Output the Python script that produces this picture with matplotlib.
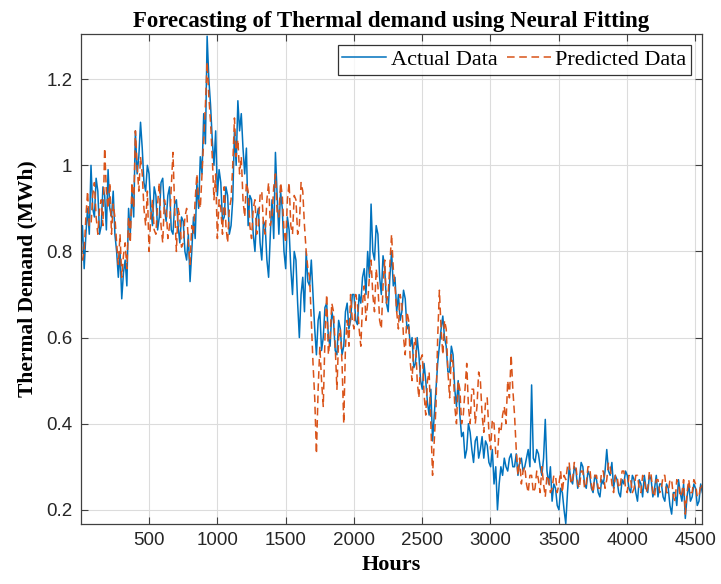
import numpy as np
import matplotlib
matplotlib.use("Agg")
import matplotlib.pyplot as plt

step_hours = 12.5
actual = [
    0.80, 0.86, 0.76, 0.84, 0.90, 0.84, 1.00, 0.90, 0.88, 0.97,
    0.94, 0.84, 0.86, 0.95, 0.93, 0.85, 0.99, 0.90, 0.88, 0.94,
    0.84, 0.80, 0.74, 0.80, 0.69, 0.75, 0.78, 0.72, 0.90, 0.84,
    0.94, 0.88, 1.08, 0.98, 1.02, 1.10, 1.04, 0.96, 0.94, 1.00,
    0.98, 0.90, 0.86, 0.95, 0.93, 0.85, 0.88, 0.96, 0.97, 0.90,
    0.87, 0.93, 0.95, 0.85, 0.84, 0.91, 0.92, 0.86, 0.82, 0.88,
    0.87, 0.80, 0.78, 0.84, 0.73, 0.80, 0.88, 0.83, 0.96, 0.90,
    1.02, 0.98, 1.12, 1.05, 1.30, 1.20, 1.14, 1.06, 1.00, 1.08,
    0.93, 0.99, 0.96, 0.87, 0.88, 0.95, 0.93, 0.84, 0.86, 0.92,
    1.08, 1.00, 1.15, 1.08, 1.12, 1.04, 0.98, 1.04, 0.86, 0.93,
    0.92, 0.84, 0.80, 0.88, 0.90, 0.82, 0.78, 0.87, 0.86, 0.78,
    0.74, 0.84, 0.92, 0.83, 1.03, 0.93, 0.84, 0.94, 0.90, 0.80,
    0.76, 0.88, 0.85, 0.76, 0.70, 0.80, 0.78, 0.68, 0.60, 0.70,
    0.74, 0.66, 0.80, 0.73, 0.72, 0.78, 0.70, 0.62, 0.56, 0.64,
    0.66, 0.57, 0.60, 0.67, 0.68, 0.60, 0.58, 0.66, 0.64, 0.57,
    0.56, 0.64, 0.62, 0.56, 0.58, 0.66, 0.68, 0.62, 0.64, 0.70,
    0.70, 0.64, 0.63, 0.70, 0.68, 0.74, 0.76, 0.70, 0.80, 0.74,
    0.91, 0.80, 0.78, 0.86, 0.84, 0.74, 0.70, 0.79, 0.76, 0.68,
    0.66, 0.74, 0.80, 0.72, 0.74, 0.66, 0.70, 0.64, 0.66, 0.71,
    0.69, 0.62, 0.63, 0.58, 0.60, 0.53, 0.54, 0.60, 0.56, 0.50,
    0.48, 0.54, 0.50, 0.45, 0.42, 0.48, 0.36, 0.42, 0.48, 0.54,
    0.58, 0.62, 0.65, 0.60, 0.58, 0.52, 0.52, 0.58, 0.56, 0.48,
    0.44, 0.50, 0.42, 0.37, 0.38, 0.32, 0.34, 0.40, 0.38, 0.34,
    0.31, 0.36, 0.37, 0.32, 0.34, 0.37, 0.32, 0.36, 0.35, 0.31,
    0.30, 0.34, 0.26, 0.30, 0.20, 0.26, 0.30, 0.28, 0.32, 0.30,
    0.29, 0.32, 0.33, 0.30, 0.30, 0.33, 0.28, 0.31, 0.32, 0.29,
    0.30, 0.32, 0.34, 0.30, 0.49, 0.32, 0.31, 0.34, 0.33, 0.30,
    0.28, 0.32, 0.41, 0.29, 0.26, 0.30, 0.22, 0.26, 0.25, 0.21,
    0.20, 0.25, 0.24, 0.20, 0.168, 0.24, 0.30, 0.27, 0.26, 0.30,
    0.29, 0.25, 0.27, 0.31, 0.30, 0.26, 0.25, 0.29, 0.28, 0.25,
    0.24, 0.28, 0.27, 0.24, 0.23, 0.27, 0.26, 0.29, 0.34, 0.29,
    0.28, 0.31, 0.25, 0.28, 0.27, 0.24, 0.23, 0.27, 0.26, 0.29,
    0.28, 0.25, 0.24, 0.28, 0.27, 0.24, 0.22, 0.27, 0.26, 0.23,
    0.28, 0.25, 0.24, 0.28, 0.27, 0.23, 0.25, 0.28, 0.23, 0.26,
    0.26, 0.23, 0.22, 0.26, 0.25, 0.21, 0.19, 0.24, 0.24, 0.21,
    0.27, 0.24, 0.22, 0.26, 0.18, 0.23, 0.26, 0.22, 0.23, 0.26,
    0.25, 0.21, 0.22, 0.26, 0.24,
]
predicted = [
    0.84, 0.78, 0.80, 0.88, 0.94, 0.86, 0.86, 0.93, 0.96, 0.88,
    0.84, 0.90, 0.92, 0.86, 1.04, 0.94, 0.90, 0.96, 0.84, 0.91,
    0.88, 0.82, 0.77, 0.84, 0.74, 0.79, 0.82, 0.76, 0.88, 0.82,
    0.96, 0.90, 1.08, 1.00, 0.94, 1.02, 0.98, 0.90, 0.86, 0.94,
    0.80, 0.88, 0.92, 0.85, 0.84, 0.91, 0.96, 0.86, 0.82, 0.92,
    0.90, 0.83, 0.86, 0.95, 1.03, 0.90, 0.80, 0.90, 0.88, 0.81,
    0.82, 0.88, 0.90, 0.82, 0.77, 0.86, 0.84, 0.92, 0.98, 0.92,
    0.90, 0.98, 1.06, 1.14, 1.24, 1.16, 1.10, 1.02, 0.92, 0.98,
    0.83, 0.92, 0.90, 0.84, 0.95, 0.86, 0.82, 0.90, 0.92, 1.00,
    1.11, 1.02, 1.06, 0.98, 1.02, 0.92, 0.88, 0.96, 0.94, 0.86,
    0.83, 0.90, 0.92, 0.84, 0.86, 0.93, 0.94, 0.86, 0.84, 0.92,
    0.96, 0.86, 0.88, 0.95, 0.98, 0.89, 0.88, 0.96, 0.93, 0.85,
    0.82, 0.92, 0.96, 0.86, 0.84, 0.93, 0.92, 0.84, 0.86, 0.96,
    0.94, 0.86, 0.80, 0.76, 0.74, 0.64, 0.54, 0.46, 0.33, 0.48,
    0.58, 0.50, 0.44, 0.60, 0.70, 0.56, 0.60, 0.68, 0.66, 0.58,
    0.48, 0.60, 0.62, 0.54, 0.40, 0.58, 0.64, 0.58, 0.70, 0.64,
    0.62, 0.70, 0.68, 0.62, 0.58, 0.68, 0.72, 0.64, 0.68, 0.74,
    0.78, 0.70, 0.66, 0.76, 0.72, 0.64, 0.62, 0.72, 0.78, 0.68,
    0.70, 0.77, 0.84, 0.76, 0.72, 0.66, 0.62, 0.70, 0.68, 0.60,
    0.56, 0.66, 0.64, 0.54, 0.50, 0.58, 0.60, 0.50, 0.46, 0.55,
    0.56, 0.47, 0.42, 0.50, 0.52, 0.40, 0.28, 0.36, 0.44, 0.60,
    0.71, 0.62, 0.56, 0.64, 0.62, 0.52, 0.46, 0.56, 0.54, 0.44,
    0.40, 0.50, 0.48, 0.40, 0.42, 0.48, 0.54, 0.44, 0.40, 0.48,
    0.48, 0.40, 0.44, 0.52, 0.50, 0.42, 0.38, 0.45, 0.46, 0.38,
    0.34, 0.41, 0.40, 0.33, 0.32, 0.39, 0.38, 0.42, 0.44, 0.40,
    0.50, 0.46, 0.56, 0.48, 0.42, 0.34, 0.28, 0.32, 0.26, 0.29,
    0.30, 0.26, 0.24, 0.28, 0.28, 0.24, 0.25, 0.29, 0.27, 0.24,
    0.30, 0.26, 0.23, 0.28, 0.27, 0.24, 0.25, 0.28, 0.28, 0.24,
    0.26, 0.29, 0.24, 0.28, 0.27, 0.30, 0.31, 0.26, 0.27, 0.31,
    0.30, 0.26, 0.25, 0.29, 0.29, 0.25, 0.26, 0.30, 0.30, 0.26,
    0.24, 0.28, 0.28, 0.25, 0.25, 0.29, 0.29, 0.25, 0.27, 0.31,
    0.30, 0.26, 0.24, 0.28, 0.28, 0.25, 0.26, 0.29, 0.29, 0.25,
    0.24, 0.28, 0.27, 0.24, 0.25, 0.28, 0.28, 0.25, 0.24, 0.28,
    0.27, 0.24, 0.25, 0.29, 0.28, 0.24, 0.23, 0.27, 0.27, 0.24,
    0.25, 0.28, 0.28, 0.24, 0.24, 0.27, 0.27, 0.23, 0.22, 0.27,
    0.26, 0.23, 0.24, 0.27, 0.19, 0.24, 0.27, 0.24, 0.24, 0.27,
    0.26, 0.23, 0.23, 0.26, 0.25,
]
xticks = [500, 1000, 1500, 2000, 2500, 3000, 3500, 4000, 4500]
yticks = [0.2, 0.4, 0.6, 0.8, 1.0, 1.2]
ytick_labels = ["0.2", "0.4", "0.6", "0.8", "1", "1.2"]

hours = np.arange(len(actual)) * step_hours + 1
hours_p = np.arange(len(predicted)) * step_hours + 1

fig = plt.figure(figsize=(7.21, 5.84), dpi=100)
ax = fig.add_axes([0.112, 0.1027, 0.862, 0.8391])

blue = "#0072BD"
orange = "#D95319"
ax.plot(hours, actual, color=blue, lw=1.1, label="Actual Data")
ax.plot(hours_p, predicted, color=orange, lw=1.1, dashes=(5, 3), label="Predicted Data")

ax.set_xlim(1, 4550)
ax.set_ylim(0.167, 1.305)
ax.set_xticks(xticks)
ax.set_xticklabels([str(t) for t in xticks])
ax.set_yticks(yticks)
ax.set_yticklabels(ytick_labels)

ax.grid(True, color="#dcdcdc", lw=0.8)
ax.set_axisbelow(True)
for s in ax.spines.values():
    s.set_color("#404040")
    s.set_linewidth(0.9)
ax.tick_params(direction="in", top=True, right=True, length=5, width=0.8,
               color="#404040", labelsize=13.5, labelcolor="#262626", pad=6)
for lab in ax.get_xticklabels() + ax.get_yticklabels():
    lab.set_fontfamily("Liberation Sans")

serif = "Liberation Serif"
ax.set_title("Forecasting of Thermal demand using Neural Fitting",
             fontfamily=serif, fontweight="bold", fontsize=16.5, pad=5)
ax.set_xlabel("Hours", fontfamily=serif, fontweight="bold", fontsize=16, labelpad=4)
ax.set_ylabel("Thermal Demand (MWh)", fontfamily=serif, fontweight="bold", fontsize=15.5, labelpad=6)

leg = ax.legend(loc="upper right", ncol=2, prop={"family": serif, "size": 16},
                frameon=True, fancybox=False, edgecolor="black",
                handlelength=2.0, columnspacing=0.4, handletextpad=0.2,
                borderpad=0.2, borderaxespad=0.5)
leg.get_frame().set_linewidth(0.9)

fig.savefig("out.png", dpi=100)
